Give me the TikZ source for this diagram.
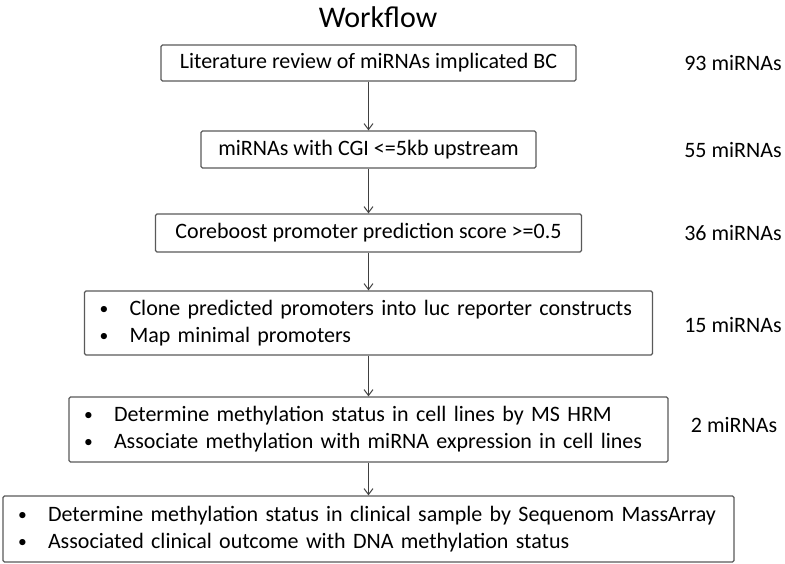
\documentclass[tikz,border=0pt]{standalone}
\usepackage{fontspec}
\setmainfont{Carlito}
\usepackage{tikz}
\usetikzlibrary{arrows.meta}
\usetikzlibrary{positioning}
\tikzset{
    stepbox/.style={
        draw=black!65,
        line width=1.2pt,
        rounded corners=1.5pt,
        inner sep=0pt,
        text=black,
        font=\fontsize{22}{27}\selectfont
    },
    listbox/.style={
        stepbox,
        align=left,
        inner xsep=15pt
    },
    countlabel/.style={
        text=black,
        font=\fontsize{22}{27}\selectfont
    },
    flowarrow/.style={
        draw=black!75,
        line width=1pt,
        -{Straight Barb[length=6pt, width=9pt]}
    }
}
\newcommand{\bitem}[1]{\makebox[30pt][l]{\raisebox{1pt}{\scalebox{0.8}{\textbullet}}}#1}

\begin{document}
\begin{tikzpicture}[x=1pt, y=-1pt]
    \useasboundingbox (0,0) rectangle (785,564);
    \node[text=black, font=\fontsize{30}{34}\selectfont] (title) at (378,17) {Workflow};

    \node[stepbox, minimum width=415pt, minimum height=36pt] (b1) at (368.5,63) {Literature review of miRNAs implicated BC};
    \node[stepbox, minimum width=335pt, minimum height=37pt] (b2) at (368.5,149.5) {miRNAs with CGI <=5kb upstream};
    \node[stepbox, minimum width=426pt, minimum height=38pt] (b3) at (368.5,233) {Coreboost promoter prediction score >=0.5};
    \node[listbox, text width=538pt, minimum height=64pt] (b4) at (368.5,323)
        {\bitem{Clone predicted promoters into luc reporter constructs}\\
         \bitem{Map minimal promoters}};
    \node[listbox, text width=569pt, minimum height=65pt] (b5) at (368.5,429.5)
        {\bitem{Determine methylation status in cell lines by MS HRM}\\
         \bitem{Associate methylation with miRNA expression in cell lines}};
    \node[listbox, text width=701pt, minimum height=66pt] (b6) at (368.5,529)
        {\bitem{Determine methylation status in clinical sample by Sequenom MassArray}\\
         \bitem{Associated clinical outcome with DNA methylation status}};

    % counts on the right
    \node[countlabel] (n1) at (733,63) {93 miRNAs};
    \node[countlabel] (n2) at (733,150) {55 miRNAs};
    \node[countlabel] (n3) at (733,233) {36 miRNAs};
    \node[countlabel] (n4) at (733,325) {15 miRNAs};
    \node[countlabel] (n5) at (734,425) {2 miRNAs};

    \draw[flowarrow] (b1) -- (b2);
    \draw[flowarrow] (b2) -- (b3);
    \draw[flowarrow] (b3) -- (b4);
    \draw[flowarrow] (b4) -- (b5);
    \draw[flowarrow] (b5) -- (b6);
\end{tikzpicture}
\end{document}
